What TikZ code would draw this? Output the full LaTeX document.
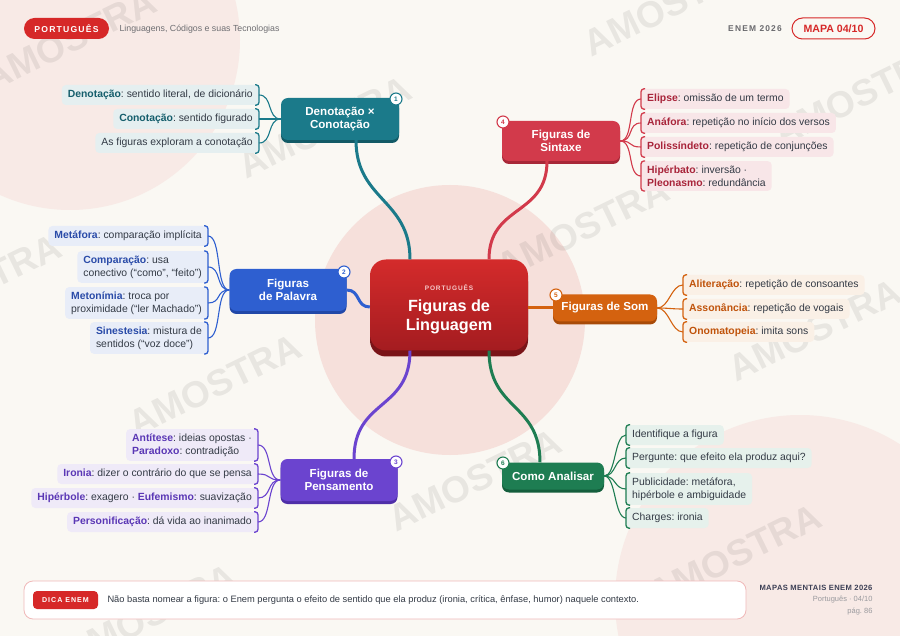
\documentclass[tikz,border=0pt]{standalone}
\usepackage{fontspec}
\setmainfont{Liberation Sans}
\newfontfamily\spacedfont[LetterSpace=14]{Liberation Sans}
\newfontfamily\lspacedfont[LetterSpace=5]{Liberation Sans}
\usetikzlibrary{calc,shadows}
\frenchspacing
\definecolor{bgc}{HTML}{FAF8F3}
\definecolor{pinkA}{HTML}{F8EAE6}
\definecolor{pinkC}{HTML}{F6E0DB}
\definecolor{cRed}{HTML}{D62828}
\definecolor{cRedT}{HTML}{D42B2B}
\definecolor{cRedB}{HTML}{A41C20}
\definecolor{cRedS}{HTML}{7A1418}
\definecolor{pinkT}{HTML}{F6C9C9}
\definecolor{cPinkB}{HTML}{F0B9B9}
\definecolor{txt}{HTML}{333A45}
\definecolor{cGray}{HTML}{6E6E72}
\definecolor{cGray2}{HTML}{6A6A6E}
\definecolor{cFoot}{HTML}{3C3F55}
\definecolor{cFoot2}{HTML}{9A9A9E}
% branch colours
\definecolor{cTeal}{HTML}{1B7A8A}\definecolor{cTealD}{HTML}{125A66}\definecolor{cTealK}{HTML}{155E6C}\definecolor{cTealL}{HTML}{E5EFF0}
\definecolor{cBlue}{HTML}{2E5FD0}\definecolor{cBlueD}{HTML}{2148A8}\definecolor{cBlueK}{HTML}{2A4BA8}\definecolor{cBlueL}{HTML}{E8EDF8}
\definecolor{cPurp}{HTML}{6B44CF}\definecolor{cPurpD}{HTML}{4F2FA8}\definecolor{cPurpK}{HTML}{5A37B5}\definecolor{cPurpL}{HTML}{EFEAF8}
\definecolor{cCrim}{HTML}{D23A4B}\definecolor{cCrimD}{HTML}{A82838}\definecolor{cCrimK}{HTML}{A8243A}\definecolor{cCrimL}{HTML}{F8E6E8}
\definecolor{cOran}{HTML}{D4620F}\definecolor{cOranD}{HTML}{A84B08}\definecolor{cOranK}{HTML}{C0530B}\definecolor{cOranL}{HTML}{FAF0E6}
\definecolor{cGreen}{HTML}{1E7D52}\definecolor{cGreenD}{HTML}{145E3C}\definecolor{cGreenL}{HTML}{E6F1EC}
\newcommand\kw[2]{{\bfseries\color{#1}#2}}
\newcommand\braceE[2]{\draw[#2,line width=1.3pt,rounded corners=3pt] ([xshift=-4pt]#1.north east) -- (#1.north east) -- (#1.south east) -- ([xshift=-4pt]#1.south east);}
\newcommand\braceW[2]{\draw[#2,line width=1.3pt,rounded corners=3pt] ([xshift=4pt]#1.north west) -- (#1.north west) -- (#1.south west) -- ([xshift=4pt]#1.south west);}
\begin{document}
\begin{tikzpicture}[x=1pt,y=-1pt,
  bnode/.style={rounded corners=7pt, text=white, font=\bfseries\fontsize{11.6}{13.5}\selectfont, align=center, inner sep=0pt},
  badge/.style={circle, fill=white, draw=#1, line width=1.1pt, minimum size=12pt, inner sep=0pt, text=#1, font=\bfseries\fontsize{6.5}{7}\selectfont},
  leaf/.style={fill=#1, rounded corners=4pt, inner xsep=6pt, inner ysep=4.5pt, minimum height=20pt, align=left, text=txt, font=\fontsize{10.4}{13}\selectfont},
  lk/.style={draw=#1, line width=1.1pt},
  mk/.style={draw=#1, line width=3pt},
  wm/.style={rotate=26, text=black, text opacity=0.07, font=\bfseries\fontsize{37}{40}\selectfont}
]
\useasboundingbox (0,0) rectangle (900,636);
\fill[bgc] (0,0) rectangle (900,636);
\begin{scope}
\clip (0,0) rectangle (900,636);
\fill[pinkA] (70,40) circle (170);
\fill[pinkC] (450,320) circle (135);
\fill[pinkA] (800,600) circle (185);
\foreach \x/\y [count=\i] in {70/40, 325/127, 670/5, 860/95, -25/285, 583/228, 815/330, 215/385, 475/480, 735/555, 150/615}
  \node[wm] (wm\i) at (\x,\y) {AMOSTRA};
\end{scope}

% header
\node[fill=cRed, rounded corners=10.5pt, minimum width=85pt, minimum height=21pt, inner sep=0pt, text=white, font=\spacedfont\bfseries\fontsize{8.6}{9}\selectfont] (hp) at (66.5,28.5) {PORTUGUÊS};
\node[anchor=west, text=cGray, font=\fontsize{8.8}{10}\selectfont] (hs) at (116,29) {Linguagens, Códigos e suas Tecnologias};
\node[text=cGray2, font=\spacedfont\bfseries\fontsize{8.4}{9}\selectfont] (he) at (755,29) {ENEM 2026};
\node[draw=cRed, line width=1pt, rounded corners=10.5pt, minimum width=83pt, minimum height=21pt, inner sep=0pt, text=cRed, font=\bfseries\fontsize{10.6}{11}\selectfont] (hm) at (833.5,28.5) {MAPA 04/10};

% central node
\node[rounded corners=16pt, minimum width=158pt, minimum height=91pt, top color=cRedT, bottom color=cRedB, drop shadow={shadow xshift=0pt,shadow yshift=-6pt,fill=cRedS,opacity=1}] (c) at (449,305) {};
\node[text=pinkT, font=\spacedfont\bfseries\fontsize{6.5}{7}\selectfont] (ct) at (449,288) {PORTUGUÊS};
\node[text=white, align=center, font=\bfseries\fontsize{16.2}{19}\selectfont] (ctt) at (449,317) {Figuras de\\Linguagem};

% branch nodes
\node[bnode, fill=cTeal, minimum width=118pt, minimum height=42pt, drop shadow={shadow xshift=0pt,shadow yshift=-3pt,fill=cTealD,opacity=1}] (b1) at (340,119) {Denotação ×\\Conotação};
\node[bnode, fill=cBlue, minimum width=117pt, minimum height=42pt, drop shadow={shadow xshift=0pt,shadow yshift=-3pt,fill=cBlueD,opacity=1}] (b2) at (288,290) {Figuras\\de Palavra};
\node[bnode, fill=cPurp, minimum width=117pt, minimum height=42pt, drop shadow={shadow xshift=0pt,shadow yshift=-3pt,fill=cPurpD,opacity=1}] (b3) at (339,480) {Figuras de\\Pensamento};
\node[bnode, fill=cCrim, minimum width=118pt, minimum height=40pt, drop shadow={shadow xshift=0pt,shadow yshift=-3pt,fill=cCrimD,opacity=1}] (b4) at (561,141) {Figuras de\\Sintaxe};
\node[bnode, fill=cOran, minimum width=104pt, minimum height=27pt, drop shadow={shadow xshift=0pt,shadow yshift=-3pt,fill=cOranD,opacity=1}] (b5) at (605,308) {Figuras de Som};
\node[bnode, fill=cGreen, minimum width=102pt, minimum height=27pt, drop shadow={shadow xshift=0pt,shadow yshift=-3pt,fill=cGreenD,opacity=1}] (b6) at (553,476) {Como Analisar};

% main connectors
\draw[mk=cTeal] ([xshift=16pt]b1.south) .. controls +(0,60) and +(0,-60) .. ([xshift=-39pt]c.north);
\draw[mk=cBlue] (b2.east) .. controls +(14,0) and +(-14,0) .. ([yshift=-2pt]c.west);
\draw[mk=cPurp] ([xshift=15pt]b3.north) .. controls +(0,-60) and +(0,60) .. ([xshift=-39pt]c.south);
\draw[mk=cCrim] ([xshift=-14pt]b4.south) .. controls +(0,55) and +(0,-55) .. ([xshift=40pt]c.north);
\draw[mk=cOran] ([yshift=-3pt]c.east) .. controls +(12,0) and +(-12,0) .. (b5.west);
\draw[mk=cGreen] ([xshift=-13pt]b6.north) .. controls +(0,-60) and +(0,60) .. ([xshift=40pt]c.south);

% badges
\node[badge=cTeal] (n1) at (396,99) {1};
\node[badge=cBlue] (n2) at (344,272) {2};
\node[badge=cPurp] (n3) at (396,462) {3};
\node[badge=cCrim] (n4) at (503,122) {4};
\node[badge=cOran] (n5) at (556,295) {5};
\node[badge=cGreen] (n6) at (503,463) {6};

% leaves branch 1
\node[leaf=cTealL, anchor=east] (l11) at (259,95) {\kw{cTealK}{Denotação}: sentido literal, de dicionário};
\node[leaf=cTealL, anchor=east] (l12) at (259,119) {\kw{cTealK}{Conotação}: sentido figurado};
\node[leaf=cTealL, anchor=east] (l13) at (259,143) {As figuras exploram a conotação};
\foreach \n in {l11,l12,l13} {\draw[lk=cTeal] (b1.west) .. controls +(-14,0) and +(14,0) .. (\n.east); \braceE{\n}{cTeal}}

% leaves branch 2
\node[leaf=cBlueL, anchor=east] (l21) at (208,236) {\kw{cBlueK}{Metáfora}: comparação implícita};
\node[leaf=cBlueL, anchor=east] (l22) at (208,267) {\kw{cBlueK}{Comparação}: usa\\conectivo (“como”, “feito”)};
\node[leaf=cBlueL, anchor=east] (l23) at (208,303) {\kw{cBlueK}{Metonímia}: troca por\\proximidade (“ler Machado”)};
\node[leaf=cBlueL, anchor=east] (l24) at (208,338) {\kw{cBlueK}{Sinestesia}: mistura de\\sentidos (“voz doce”)};
\foreach \n in {l21,l22,l23,l24} {\draw[lk=cBlue] (b2.west) .. controls +(-14,0) and +(14,0) .. (\n.east); \braceE{\n}{cBlue}}

% leaves branch 3
\node[leaf=cPurpL, anchor=east] (l31) at (258,445) {\kw{cPurpK}{Antítese}: ideias opostas ·\\\kw{cPurpK}{Paradoxo}: contradição};
\node[leaf=cPurpL, anchor=east] (l32) at (258,474) {\kw{cPurpK}{Ironia}: dizer o contrário do que se pensa};
\node[leaf=cPurpL, anchor=east] (l33) at (258,498) {\kw{cPurpK}{Hipérbole}: exagero · \kw{cPurpK}{Eufemismo}: suavização};
\node[leaf=cPurpL, anchor=east] (l34) at (258,522) {\kw{cPurpK}{Personificação}: dá vida ao inanimado};
\foreach \n in {l31,l32,l33,l34} {\draw[lk=cPurp] (b3.west) .. controls +(-14,0) and +(14,0) .. (\n.east); \braceE{\n}{cPurp}}

% leaves branch 4
\node[leaf=cCrimL, anchor=west] (l41) at (641,99) {\kw{cCrimK}{Elipse}: omissão de um termo};
\node[leaf=cCrimL, anchor=west] (l42) at (641,123) {\kw{cCrimK}{Anáfora}: repetição no início dos versos};
\node[leaf=cCrimL, anchor=west] (l43) at (641,147) {\kw{cCrimK}{Polissíndeto}: repetição de conjunções};
\node[leaf=cCrimL, anchor=west] (l44) at (641,176) {\kw{cCrimK}{Hipérbato}: inversão ·\\\kw{cCrimK}{Pleonasmo}: redundância};
\foreach \n in {l41,l42,l43,l44} {\draw[lk=cCrim] (b4.east) .. controls +(14,0) and +(-14,0) .. (\n.west); \braceW{\n}{cCrim}}

% leaves branch 5
\node[leaf=cOranL, anchor=west] (l51) at (683,285) {\kw{cOranK}{Aliteração}: repetição de consoantes};
\node[leaf=cOranL, anchor=west] (l52) at (683,309) {\kw{cOranK}{Assonância}: repetição de vogais};
\node[leaf=cOranL, anchor=west] (l53) at (683,332) {\kw{cOranK}{Onomatopeia}: imita sons};
\foreach \n in {l51,l52,l53} {\draw[lk=cOran] (b5.east) .. controls +(12,0) and +(-12,0) .. (\n.west); \braceW{\n}{cOran}}

% leaves branch 6
\node[leaf=cGreenL, anchor=west] (l61) at (626,435) {Identifique a figura};
\node[leaf=cGreenL, anchor=west] (l62) at (626,458) {Pergunte: que efeito ela produz aqui?};
\node[leaf=cGreenL, anchor=west] (l63) at (626,489) {Publicidade: metáfora,\\hipérbole e ambiguidade};
\node[leaf=cGreenL, anchor=west] (l64) at (626,518) {Charges: ironia};
\foreach \n in {l61,l62,l63,l64} {\draw[lk=cGreen] (b6.east) .. controls +(12,0) and +(-12,0) .. (\n.west); \braceW{\n}{cGreen}}

% footer
\node[draw=cPinkB, fill=white, line width=0.8pt, rounded corners=9pt, minimum width=722pt, minimum height=38pt] (fb) at (385,600) {};
\node[fill=cRed, rounded corners=4pt, minimum width=65pt, minimum height=18pt, inner sep=0pt, text=white, font=\spacedfont\bfseries\fontsize{7.1}{8}\selectfont] (fd) at (65.5,600) {DICA ENEM};
\node[anchor=west, text=txt, font=\fontsize{9.3}{10}\selectfont] (ft) at (104,600) {Não basta nomear a figura: o Enem pergunta o efeito de sentido que ela produz (ironia, crítica, ênfase, humor) naquele contexto.};
\node[anchor=east, text=cFoot, font=\lspacedfont\bfseries\fontsize{7.6}{9}\selectfont] (fr1) at (876,588) {MAPAS MENTAIS ENEM 2026};
\node[anchor=east, text=cFoot2, font=\fontsize{7.5}{8}\selectfont] (fr2) at (876,600) {Português · 04/10};
\node[anchor=east, text=cFoot2, font=\fontsize{7.5}{8}\selectfont] (fr3) at (876,612) {pág. 86};
\end{tikzpicture}
\end{document}
